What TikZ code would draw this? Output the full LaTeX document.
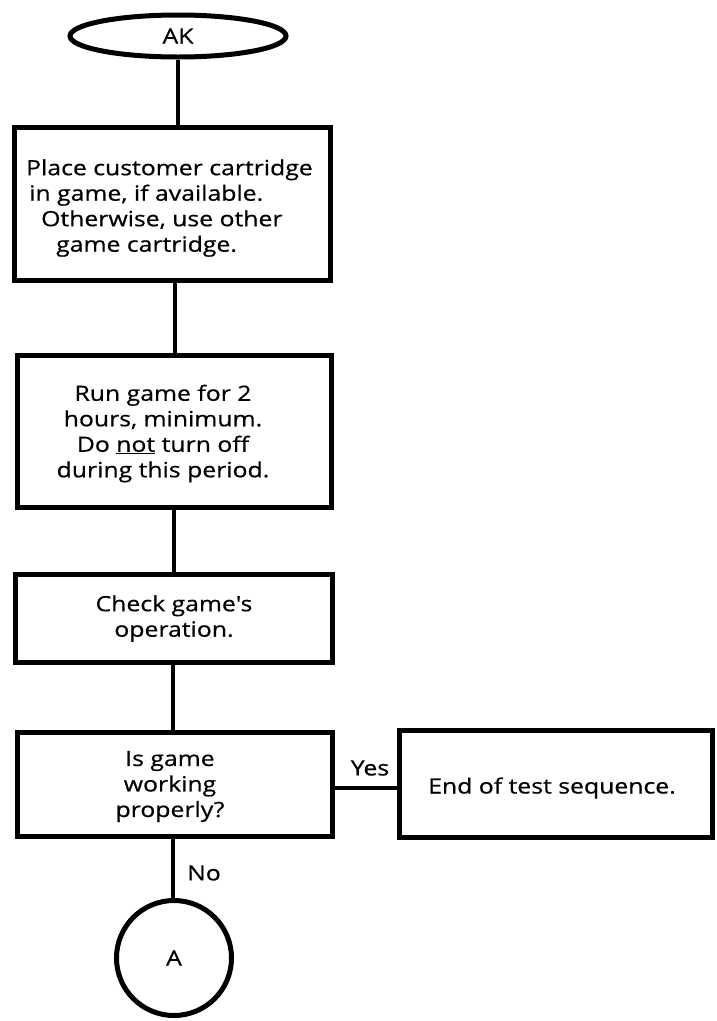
\documentclass[tikz,border=0pt]{standalone}
\usepackage{fontspec}
\setmainfont{Open Sans}[FakeStretch=1.18, FakeBold=0.6]
\usetikzlibrary{shapes.geometric}
\begin{document}
\begin{tikzpicture}[x=1pt,y=-1pt,
  txt/.style={font=\fontsize{21}{25.5}\selectfont, align=center},
  box/.style={draw, line width=5pt, rectangle, inner sep=0pt, txt},
  conn/.style={line width=3.5pt},
  lbl/.style={font=\fontsize{21}{25.5}\selectfont, inner sep=0pt}]
\useasboundingbox (0,0) rectangle (717,1021);
\node[draw, ellipse, line width=5pt, minimum width=216pt, minimum height=42pt, inner sep=0pt, txt] (ak) at (178,36) {AK};
\node[box, minimum width=316pt, minimum height=153pt,
  label={[txt, align=left, xshift=-3pt, yshift=-4pt]center:{Place customer cartridge\\\hspace*{3pt}in game, if available.\\\hspace*{15pt}Otherwise, use other\\\hspace*{30pt}game cartridge.}}] (b1) at (172.5,204) {};
\node[box, minimum width=314pt, minimum height=152pt,
  label={[txt, xshift=-11pt, yshift=-2pt]center:{Run game for 2\\hours, minimum.\\Do \underline{not} turn off\\during this period.}}] (b2) at (174,431.5) {};
\node[box, minimum width=317pt, minimum height=88pt] (b3) at (174,618.5) {Check game\textquotesingle s\\operation.};
\node[box, minimum width=315pt, minimum height=104pt,
  label={[txt, xshift=-5pt, yshift=-2pt]center:{Is game\\working\\properly?}}] (b4) at (175,784.5) {};
\node[box, minimum width=313pt, minimum height=107pt,
  label={[txt, xshift=-4pt, yshift=-4pt]center:{End of test sequence.}}] (b5) at (556,784) {};
\node[draw, circle, line width=5pt, minimum size=115pt, inner sep=0pt, txt] (ca) at (174,958) {A};
\draw[conn] (ak.south) -- (ak.south |- b1.north);
\draw[conn] (b1.south -| 175,0) -- (b2.north -| 175,0);
\draw[conn] (b2.south -| 174,0) -- (b3.north -| 174,0);
\draw[conn] (b3.south -| 173,0) -- (b4.north -| 173,0);
\draw[conn] (b4.east |- 0,788) -- (b5.west |- 0,788);
\draw[conn] (b4.south -| 173,0) -- (ca.north -| 173,0);
\node[lbl] (yes) at (370,768) {Yes};
\node[lbl] (no) at (204,873) {No};
\end{tikzpicture}
\end{document}
